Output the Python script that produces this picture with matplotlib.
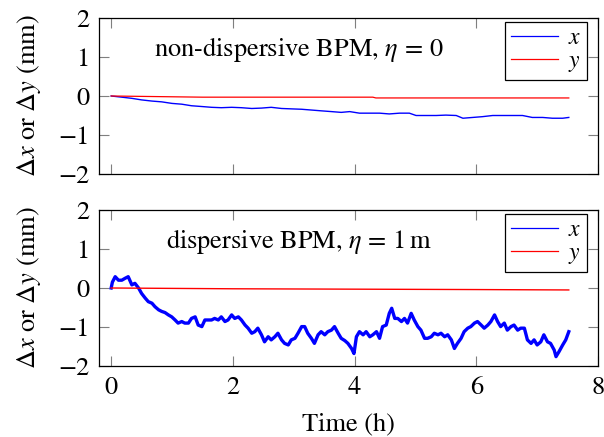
import matplotlib
matplotlib.use("Agg")
import matplotlib.pyplot as plt

plt.rcParams['font.family'] = ['STIXGeneral', 'DejaVu Serif']
plt.rcParams['mathtext.fontset'] = 'stix'

# ---- data ----
t_top_x = [0.00, 0.175, 0.34, 0.50, 0.67, 0.83, 1.00, 1.16, 1.32, 1.49, 1.65, 1.81, 1.98, 2.14,
           2.31, 2.47, 2.63, 2.80, 2.96, 3.13, 3.29, 3.45, 3.62, 3.78, 3.92, 4.08, 4.25, 4.41,
           4.57, 4.74, 4.90, 5.01, 5.18, 5.34, 5.50, 5.67, 5.78, 5.94, 6.10, 6.27, 6.43, 6.60,
           6.76, 6.92, 7.09, 7.25, 7.42, 7.52]
dx_top = [0.00, -0.03, -0.06, -0.10, -0.13, -0.15, -0.19, -0.21, -0.25, -0.27, -0.29, -0.30, -0.29, -0.30,
          -0.32, -0.31, -0.29, -0.32, -0.33, -0.34, -0.36, -0.38, -0.40, -0.42, -0.40, -0.44, -0.44, -0.44,
          -0.46, -0.44, -0.44, -0.50, -0.50, -0.50, -0.49, -0.50, -0.57, -0.55, -0.53, -0.50, -0.50, -0.50,
          -0.50, -0.55, -0.55, -0.57, -0.57, -0.55]
t_top_y = [0.00, 1.50, 4.30, 4.35, 7.52]
dy_top = [0.00, -0.03, -0.03, -0.05, -0.05]

t_bot_x = [0.00, 0.02, 0.066, 0.12, 0.175, 0.23, 0.28, 0.34, 0.39, 0.45, 0.50, 0.56, 0.61, 0.67,
           0.72, 0.78, 0.83, 0.885, 0.94, 0.995, 1.05, 1.10, 1.16, 1.21, 1.27, 1.32, 1.38, 1.43,
           1.49, 1.54, 1.60, 1.65, 1.70, 1.76, 1.81, 1.87, 1.92, 1.98, 2.03, 2.09, 2.14, 2.20,
           2.25, 2.31, 2.36, 2.41, 2.47, 2.52, 2.58, 2.63, 2.69, 2.74, 2.80, 2.85, 2.91, 2.96,
           3.02, 3.07, 3.13, 3.18, 3.23, 3.29, 3.34, 3.40, 3.45, 3.51, 3.56, 3.62, 3.67, 3.73,
           3.78, 3.84, 3.89, 3.95, 3.99, 4.03, 4.08, 4.14, 4.19, 4.25, 4.30, 4.36, 4.41, 4.46,
           4.52, 4.57, 4.61, 4.66, 4.71, 4.77, 4.82, 4.87, 4.93, 4.98, 5.04, 5.09, 5.15, 5.20,
           5.26, 5.31, 5.37, 5.42, 5.48, 5.53, 5.59, 5.64, 5.69, 5.75, 5.80, 5.86, 5.91, 5.97,
           6.02, 6.08, 6.13, 6.19, 6.24, 6.30, 6.35, 6.40, 6.46, 6.51, 6.57, 6.62, 6.68, 6.73,
           6.79, 6.84, 6.90, 6.95, 7.00, 7.06, 7.11, 7.17, 7.22, 7.28, 7.31, 7.36, 7.42, 7.47,
           7.52]
dx_bot = [0.00, 0.15, 0.29, 0.20, 0.20, 0.25, 0.29, 0.08, 0.12, 0.00, -0.14, -0.26, -0.35, -0.39,
          -0.48, -0.56, -0.60, -0.63, -0.69, -0.74, -0.82, -0.90, -0.86, -0.90, -0.90, -0.78, -0.74, -0.95,
          -0.99, -0.82, -0.82, -0.82, -0.78, -0.82, -0.74, -0.86, -0.82, -0.69, -0.78, -0.74, -0.82, -0.95,
          -1.03, -1.16, -1.12, -1.03, -1.20, -1.38, -1.25, -1.33, -1.25, -1.16, -1.33, -1.42, -1.46, -1.33,
          -1.29, -1.16, -0.99, -0.99, -1.16, -1.29, -1.42, -1.20, -1.12, -1.20, -1.12, -1.08, -0.99, -1.16,
          -1.29, -1.35, -1.42, -1.55, -1.68, -1.25, -1.12, -1.20, -1.12, -1.25, -1.20, -1.12, -1.29, -0.99,
          -0.95, -0.65, -0.52, -0.78, -0.78, -0.86, -0.78, -0.90, -0.65, -0.82, -0.99, -1.08, -1.29, -1.29,
          -1.25, -1.16, -1.20, -1.16, -1.25, -1.20, -1.33, -1.55, -1.42, -1.29, -1.12, -1.03, -0.99, -0.90,
          -0.86, -0.95, -1.03, -0.95, -0.86, -0.69, -0.86, -0.99, -0.90, -1.08, -0.99, -0.95, -1.08, -1.03,
          -1.03, -1.33, -1.42, -1.33, -1.46, -1.38, -1.20, -1.38, -1.42, -1.59, -1.76, -1.63, -1.46, -1.33,
          -1.12]
t_bot_y = [0.00, 2.00, 4.00, 6.00, 7.52]
dy_bot = [0.00, -0.02, -0.03, -0.04, -0.05]

xticks = [0, 2, 4, 6, 8]
yticks = [-2, -1, 0, 1, 2]
ylabel = r"$\Delta x$ or $\Delta y$ (mm)"
titles = [r"non-dispersive BPM, $\eta\, =\, 0$", r"dispersive BPM, $\eta\, =\, 1\,\mathrm{m}$"]

fig = plt.figure(figsize=(6.04, 4.37), dpi=100)
W, H = 604, 437
def rect(l, t, r, b):
    return [l / W, 1 - b / H, (r - l) / W, (b - t) / H]

ax1 = fig.add_axes(rect(99, 18, 598, 174))
ax2 = fig.add_axes(rect(99, 210, 598, 366))

ax1.plot(t_top_x, dx_top, color=(0, 0, 1), lw=1.0, label=r"$x$")
ax1.plot(t_top_y, dy_top, color=(1, 0, 0), lw=0.9, label=r"$y$")
ax2.plot(t_bot_x, dx_bot, color=(0, 0, 1), lw=2.4, label=r"$x$")
ax2.plot(t_bot_y, dy_bot, color=(1, 0, 0), lw=1.0, label=r"$y$")

fs = 19
for ax, title, legtop in [(ax1, titles[0], 22), (ax2, titles[1], 214)]:
    ax.set_xlim(-0.2, 8.0)
    ax.set_ylim(-2, 2)
    ax.set_xticks(xticks)
    ax.set_yticks(yticks)
    ax.tick_params(direction='in', length=7, width=0.8, color='#7f7f7f',
                   top=True, right=True, labelsize=fs, pad=7)
    for s in ax.spines.values():
        s.set_linewidth(0.9)
    ax.set_ylabel(ylabel, fontsize=fs, labelpad=11)
    ax.text(0.40, 0.80, title, transform=ax.transAxes, ha='center', va='center', fontsize=fs)
    axtop = 18 if ax is ax1 else 210
    leg = ax.legend(loc='upper right', bbox_to_anchor=((587 - 99) / 499, 1 - (legtop - axtop) / 156),
                    borderaxespad=0, fontsize=17, frameon=True, fancybox=False,
                    edgecolor='black', framealpha=1, handlelength=2.0, handletextpad=0.4,
                    labelspacing=0.05, borderpad=0.25)
    leg.get_frame().set_linewidth(0.9)
    for h in leg.get_lines():
        h.set_linewidth(0.9)

ax1.tick_params(labelbottom=False)
ax2.set_xlabel("Time (h)", fontsize=fs, labelpad=9)

fig.savefig("out.png", dpi=100)
